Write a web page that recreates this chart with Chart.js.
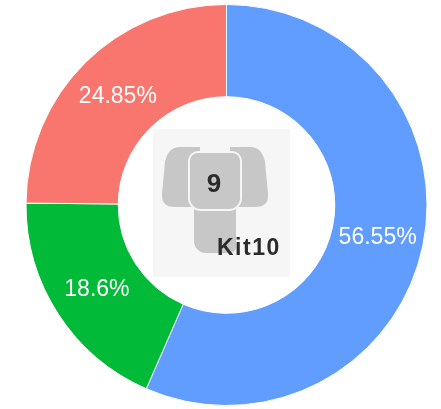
<!DOCTYPE html>
<html>
<head>
<meta charset="utf-8">
<script src="https://cdn.jsdelivr.net/npm/chart.js@4/dist/chart.umd.min.js"></script>
<style>
  html, body { margin: 0; padding: 0; background: #ffffff; }
  #wrap { width: 441px; height: 409px; position: relative; }
</style>
</head>
<body>
<div id="wrap"><canvas id="c" width="441" height="409"></canvas></div>
<script>
const categories = ["A", "B", "C"];
const shares = [56.55, 18.6, 24.85];
const sliceColors = ["#619CFF", "#00BA38", "#F8766D"];
const centerTitle = "9";
const centerSubtitle = "Kit10";

function rr(ctx, x, y, w, h, r) {
  ctx.beginPath();
  ctx.roundRect(x, y, w, h, r);
}

function ear(ctx, mirrorX) {
  ctx.save();
  if (mirrorX) { ctx.translate(430, 0); ctx.scale(-1, 1); }
  ctx.beginPath();
  ctx.moveTo(200, 147);
  ctx.lineTo(180, 147);
  ctx.quadraticCurveTo(168, 147, 165, 162);
  ctx.lineTo(162, 194);
  ctx.quadraticCurveTo(161, 207, 175, 207);
  ctx.lineTo(200, 207);
  ctx.closePath();
  ctx.fill();
  ctx.restore();
}

const sliceLabels = {
  id: "sliceLabels",
  afterDatasetsDraw(chart) {
    const ctx = chart.ctx;
    const meta = chart.getDatasetMeta(0);
    ctx.save();
    ctx.fillStyle = "#ffffff";
    ctx.font = "23px 'Liberation Sans', Arial, sans-serif";
    ctx.textAlign = "center";
    ctx.textBaseline = "middle";
    meta.data.forEach((arc, i) => {
      const p = arc.getCenterPoint();
      ctx.fillText(chart.data.datasets[0].data[i] + "%", p.x, p.y + 1);
    });
    ctx.restore();
  }
};

const centerLogo = {
  id: "centerLogo",
  afterDraw(chart) {
    const ctx = chart.ctx;
    const meta = chart.getDatasetMeta(0);
    const cx = meta.data[0].x, cy = meta.data[0].y;
    const ox = cx - 226.5, oy = cy - 205;
    ctx.save();
    ctx.translate(ox, oy);
    ctx.fillStyle = "#f6f6f6";
    ctx.fillRect(153, 129, 137, 148);
    ctx.fillStyle = "#c7c7c7";
    ear(ctx, false);
    ear(ctx, true);
    rr(ctx, 194, 204, 42, 49, [0, 0, 6, 12]); ctx.fill();
    rr(ctx, 190, 153, 50, 56, [8, 8, 11, 11]);
    ctx.lineWidth = 4;
    ctx.strokeStyle = "#f6f6f6";
    ctx.stroke();
    ctx.fill();
    ctx.fillStyle = "#2b2b2b";
    ctx.textAlign = "center";
    ctx.textBaseline = "alphabetic";
    ctx.font = "bold 26px 'Liberation Sans', Arial, sans-serif";
    ctx.fillText(centerTitle, 214, 192);
    ctx.font = "bold 23px 'Liberation Sans', Arial, sans-serif";
    ctx.textAlign = "left";
    if ('letterSpacing' in ctx) ctx.letterSpacing = "1.5px";
    ctx.fillText(centerSubtitle, 217, 255);
    ctx.restore();
  }
};

new Chart(document.getElementById("c"), {
  type: "doughnut",
  data: {
    labels: categories,
    datasets: [{
      data: shares,
      backgroundColor: sliceColors,
      borderColor: "#ffffff",
      borderWidth: 1,
      hoverOffset: 0
    }]
  },
  options: {
    responsive: false,
    animation: false,
    cutout: "54%",
    layout: { padding: { left: 12, right: 0, top: 4, bottom: 3 } },
    plugins: {
      legend: { display: false },
      tooltip: { enabled: false }
    }
  },
  plugins: [sliceLabels, centerLogo]
});
</script>
</body>
</html>
